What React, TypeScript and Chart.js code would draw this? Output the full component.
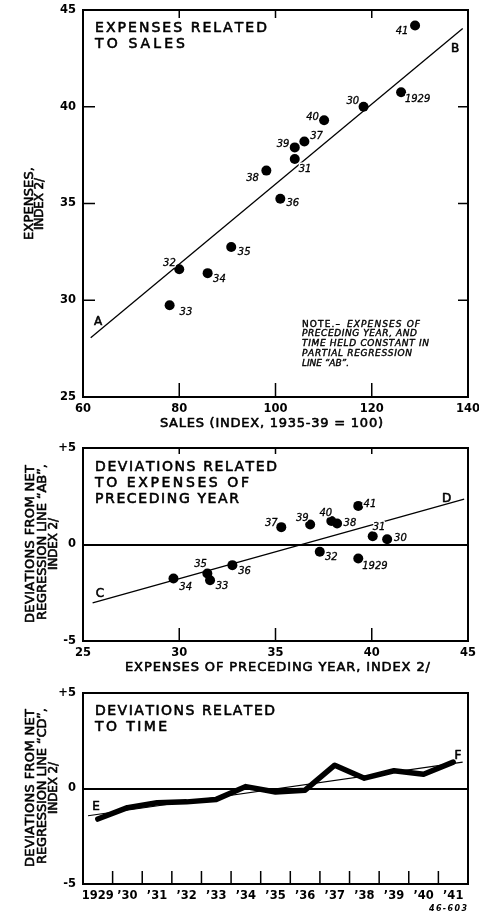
import React, { useEffect, useRef } from 'react';
import { Chart, registerables } from 'chart.js';

Chart.register(...registerables);

const FAMILY = '"DejaVu Sans", sans-serif';

// ---------------- Panel 1: expenses related to sales ----------------
const yearLabels = ['1929', '30', '31', '32', '33', '34', '35', '36', '37', '38', '39', '40', '41'];
const salesIndex = [126.1, 118.3, 104.0, 80.0, 78.0, 85.9, 90.8, 101.0, 106.0, 98.1, 104.0, 110.1, 129.0];
const expensesIndex = [40.75, 40.0, 37.3, 31.6, 29.74, 31.4, 32.75, 35.25, 38.2, 36.7, 37.9, 39.3, 44.2];
const lineABx = [61.6, 138.9];
const lineABy = [28.06, 44.05];
const salesTicks = [60, 80, 100, 120, 140];
const expensesTicks = [25, 30, 35, 40, 45];

// ---------------- Panel 2: deviations related to preceding year's expenses ----------------
const prevYearExpenses = [39.3, 40.8, 40.05, 37.3, 31.6, 29.7, 31.46, 32.76, 35.3, 38.2, 36.8, 37.9, 39.3];
const deviationsAB = [-0.73, 0.27, 0.43, -0.38, -1.85, -1.76, -1.5, -1.07, 0.9, 1.09, 1.04, 1.22, 2.0];
const lineCDx = [25.5, 44.8];
const lineCDy = [-3.03, 2.35];
const prevExpTicks = [25, 30, 35, 40, 45];
const deviationTicks = [-5, 0, 5];

// ---------------- Panel 3: deviations related to time ----------------
const timeLabels = ['1929', '\u201930', '\u201931', '\u201932', '\u201933', '\u201934', '\u201935', '\u201936', '\u201937', '\u201938', '\u201939', '\u201940', '\u201941'];
const deviationsCD = [-1.6, -1.0, -0.75, -0.7, -0.57, 0.1, -0.18, -0.09, 1.22, 0.54, 0.93, 0.75, 1.38];
const lineEFx = [-0.33, 12.32];
const lineEFy = [-1.43, 1.38];

// label placement (pixel offsets of label centres from their dots)
const p1LabelOffsets = [
  [16.5, 5.7], [-10.8, -6.7], [10.3, 9], [-9.8, -7.3], [16.3, 5.7], [11.8, 5.3], [13, 4.7],
  [12.5, 3.3], [12.2, -6.3], [-13.8, 6.3], [-11.7, -3.7], [-11.5, -3.6], [-13, 5],
];
const p2LabelOffsets = [
  [16.7, 6.4], [13.3, -2.3], [6.3, -10.2], [11.5, 4.6], [12, 5.3], [12.2, 8], [-6.8, -9.6],
  [12.2, 5], [-10, -5], [12.8, -1.6], [-7.8, -7.3], [-5.5, -9], [11.7, -2.7],
];

type TextItem = {
  text: string; x: number; y: number; size: number; width?: number;
  align?: 'left' | 'center' | 'right'; italic?: boolean; bold?: boolean; rotate?: boolean; heavy?: number;
};
type TickMark = { side: 'top' | 'bottom' | 'left' | 'right'; values: number[]; len: number };
type PointLabels = { xs: number[]; ys: number[]; labels: string[]; offsets: number[][]; size: number };

function fontStr(size: number, italic?: boolean, bold?: boolean) {
  return `${italic ? 'italic ' : ''}${bold ? 'bold ' : ''}${size}px ${FAMILY}`;
}

function drawSpaced(
  ctx: CanvasRenderingContext2D, text: string, x: number, baseline: number,
  width: number | undefined, align: 'left' | 'center' | 'right', halo = false, heavy = 0,
) {
  const chars = Array.from(text);
  const widths = chars.map((c) => ctx.measureText(c).width);
  const natural = widths.reduce((a, b) => a + b, 0);
  const sp = width != null && chars.length > 1 ? (width - natural) / (chars.length - 1) : 0;
  const total = natural + sp * (chars.length - 1);
  const start = align === 'center' ? x - total / 2 : align === 'right' ? x - total : x;
  ctx.textAlign = 'left';
  ctx.textBaseline = 'alphabetic';
  if (halo) {
    let hx = start;
    ctx.save();
    ctx.strokeStyle = '#fff';
    ctx.lineWidth = 3;
    ctx.lineJoin = 'round';
    chars.forEach((c, i) => { ctx.strokeText(c, hx, baseline); hx += widths[i] + sp; });
    ctx.restore();
  }
  let cx = start;
  chars.forEach((c, i) => {
    ctx.fillText(c, cx, baseline);
    if (heavy > 0) {
      ctx.save();
      ctx.strokeStyle = '#000';
      ctx.lineWidth = heavy;
      ctx.lineJoin = 'round';
      ctx.strokeText(c, cx, baseline);
      ctx.restore();
    }
    cx += widths[i] + sp;
  });
}

function makeDecor(top: number, texts: TextItem[], marks: TickMark[], pl?: PointLabels) {
  return {
    id: 'decor',
    afterDatasetsDraw(chart: any) {
      if (!pl) return;
      const ctx: CanvasRenderingContext2D = chart.ctx;
      const xs = chart.scales.x;
      const ys = chart.scales.y;
      ctx.save();
      ctx.fillStyle = '#000';
      ctx.font = fontStr(pl.size, true);
      const capH = pl.size * 0.729;
      pl.labels.forEach((lab, i) => {
        const px = xs.getPixelForValue(pl.xs[i]) + pl.offsets[i][0];
        const py = ys.getPixelForValue(pl.ys[i]) + pl.offsets[i][1];
        drawSpaced(ctx, lab, px, py + capH / 2, undefined, 'center', true, 0.3);
      });
      ctx.restore();
    },
    afterDraw(chart: any) {
      const ctx: CanvasRenderingContext2D = chart.ctx;
      const a = chart.chartArea;
      const xs = chart.scales.x;
      const ys = chart.scales.y;
      ctx.save();
      // frame
      ctx.strokeStyle = '#000';
      ctx.lineWidth = 2;
      ctx.strokeRect(a.left, a.top, a.right - a.left, a.bottom - a.top);
      // inner tick marks
      ctx.lineWidth = 1.5;
      ctx.beginPath();
      marks.forEach((m) => {
        m.values.forEach((v) => {
          if (m.side === 'bottom' || m.side === 'top') {
            const px = xs.getPixelForValue(v);
            const y0 = m.side === 'bottom' ? a.bottom : a.top;
            const y1 = m.side === 'bottom' ? a.bottom - m.len : a.top + m.len;
            ctx.moveTo(px, y0); ctx.lineTo(px, y1);
          } else {
            const py = ys.getPixelForValue(v);
            const x0 = m.side === 'left' ? a.left : a.right;
            const x1 = m.side === 'left' ? a.left + m.len : a.right - m.len;
            ctx.moveTo(x0, py); ctx.lineTo(x1, py);
          }
        });
      });
      ctx.stroke();
      // texts
      ctx.fillStyle = '#000';
      texts.forEach((t) => {
        ctx.font = fontStr(t.size, t.italic, t.bold);
        const capH = t.size * 0.729;
        const align = t.align || 'left';
        const heavy = t.heavy ?? 0.6;
        if (t.rotate) {
          ctx.save();
          ctx.translate(t.x + capH / 2, t.y - top);
          ctx.rotate(-Math.PI / 2);
          drawSpaced(ctx, t.text, 0, 0, t.width, 'center', false, heavy);
          ctx.restore();
        } else {
          drawSpaced(ctx, t.text, t.x, t.y - top + capH / 2, t.width, align, false, heavy);
        }
      });
      ctx.restore();
    },
  };
}

const tickFont = { family: 'DejaVu Sans', size: 11.5, weight: 'bold' as const };

// keep the plot area exactly where the layout padding and box sizes put it
function noLabelPadding(s: any) {
  s.paddingLeft = 0;
  s.paddingRight = 0;
  s.paddingTop = 0;
  s.paddingBottom = 0;
}

function zeroGrid() {
  return {
    display: true,
    drawTicks: false,
    color: (c: any) => (c.tick && c.tick.value === 0 ? '#000' : 'rgba(0,0,0,0)'),
    lineWidth: 2,
  };
}

function panel1Config() {
  const top = 0;
  const texts: TextItem[] = [
    { text: 'EXPENSES RELATED', x: 95, y: 27, size: 14, width: 172 },
    { text: 'TO SALES', x: 95, y: 43, size: 14, width: 90 },
    { text: 'A', x: 98, y: 320.7, size: 12, align: 'center' },
    { text: 'B', x: 455, y: 48, size: 12, align: 'center' },
    { text: 'NOTE.\u2013', x: 302, y: 323.3, size: 9, width: 38, heavy: 0.4 },
    { text: 'EXPENSES OF', x: 347, y: 323.3, size: 9, width: 73, italic: true, heavy: 0.4 },
    { text: 'PRECEDING YEAR, AND', x: 302, y: 333.1, size: 9, width: 115, italic: true, heavy: 0.4 },
    { text: 'TIME HELD CONSTANT IN', x: 302, y: 342.9, size: 9, width: 127, italic: true, heavy: 0.4 },
    { text: 'PARTIAL REGRESSION', x: 302, y: 352.7, size: 9, width: 110, italic: true, heavy: 0.4 },
    { text: 'LINE \u201CAB\u201D.', x: 302, y: 362.5, size: 9, width: 47, italic: true, heavy: 0.4 },
    { text: 'SALES (INDEX, 1935-39 = 100)', x: 271.5, y: 422.7, size: 13, width: 223, align: 'center' },
    { text: 'EXPENSES,', x: 28, y: 203.5, size: 13, width: 73, rotate: true },
    { text: 'INDEX 2/', x: 39, y: 204, size: 12, width: 52, rotate: true },
  ];
  const marks: TickMark[] = [
    { side: 'bottom', values: [80, 100, 120], len: 14 },
    { side: 'top', values: [80, 100, 120], len: 8 },
    { side: 'left', values: [30, 35, 40], len: 12 },
    { side: 'right', values: [30, 35, 40], len: 10 },
  ];
  const decor = makeDecor(top, texts, marks, {
    xs: salesIndex, ys: expensesIndex, labels: yearLabels, offsets: p1LabelOffsets, size: 10,
  });
  return {
    type: 'scatter',
    data: {
      datasets: [
        {
          type: 'line',
          data: lineABx.map((x, i) => ({ x, y: lineABy[i] })),
          borderColor: '#000', borderWidth: 1.3, pointRadius: 0, order: 2,
        },
        {
          type: 'scatter',
          data: salesIndex.map((x, i) => ({ x, y: expensesIndex[i] })),
          backgroundColor: '#000', borderWidth: 0, pointRadius: 5, order: 1,
        },
      ],
    },
    options: {
      responsive: false,
      animation: false,
      layout: { padding: { top: 10, right: 11, left: 0, bottom: 0 } },
      plugins: { legend: { display: false }, tooltip: { enabled: false } },
      scales: {
        x: {
          type: 'linear', min: 60, max: 140,
          afterBuildTicks: (s: any) => { s.ticks = salesTicks.map((v) => ({ value: v })); },
          afterFit: (s: any) => { s.height = 35; noLabelPadding(s); },
          grid: { display: false, drawTicks: false },
          border: { display: false },
          ticks: { font: tickFont, color: '#000', padding: 5, maxRotation: 0, autoSkip: false },
        },
        y: {
          type: 'linear', min: 25, max: 45,
          afterBuildTicks: (s: any) => { s.ticks = expensesTicks.map((v) => ({ value: v })); },
          afterFit: (s: any) => { s.width = 83; noLabelPadding(s); },
          grid: { display: false, drawTicks: false },
          border: { display: false },
          ticks: { font: tickFont, color: '#000', padding: 7 },
        },
      },
    },
    plugins: [decor],
  };
}

function devTickLabel(v: any) {
  const n = Number(v);
  return n > 0 ? `+${n}` : n < 0 ? `-${Math.abs(n)}` : '0';
}

function panel2Config() {
  const top = 432;
  const texts: TextItem[] = [
    { text: 'DEVIATIONS RELATED', x: 95, y: 466, size: 14, width: 182 },
    { text: 'TO EXPENSES OF', x: 95, y: 482, size: 14, width: 154 },
    { text: 'PRECEDING YEAR', x: 95, y: 498, size: 14, width: 144 },
    { text: 'C', x: 100, y: 592.3, size: 12, align: 'center' },
    { text: 'D', x: 446.7, y: 497.3, size: 12, align: 'center' },
    { text: 'EXPENSES OF PRECEDING YEAR, INDEX 2/', x: 277.5, y: 666.7, size: 13, width: 305, align: 'center' },
    { text: 'DEVIATIONS FROM NET', x: 29, y: 544, size: 13, width: 158, rotate: true },
    { text: 'REGRESSION LINE \u201CAB\u201D,', x: 41, y: 542, size: 13, width: 156, rotate: true },
    { text: 'INDEX 2/', x: 53, y: 544, size: 12, width: 52, rotate: true },
  ];
  const marks: TickMark[] = [
    { side: 'bottom', values: [30, 35, 40], len: 13 },
    { side: 'top', values: [30, 35, 40], len: 6 },
  ];
  const decor = makeDecor(top, texts, marks, {
    xs: prevYearExpenses, ys: deviationsAB, labels: yearLabels, offsets: p2LabelOffsets, size: 10,
  });
  return {
    type: 'scatter',
    data: {
      datasets: [
        {
          type: 'line',
          data: lineCDx.map((x, i) => ({ x, y: lineCDy[i] })),
          borderColor: '#000', borderWidth: 1.3, pointRadius: 0, order: 2,
        },
        {
          type: 'scatter',
          data: prevYearExpenses.map((x, i) => ({ x, y: deviationsAB[i] })),
          backgroundColor: '#000', borderWidth: 0, pointRadius: 5, order: 1,
        },
      ],
    },
    options: {
      responsive: false,
      animation: false,
      layout: { padding: { top: 16, right: 11, left: 0, bottom: 0 } },
      plugins: { legend: { display: false }, tooltip: { enabled: false } },
      scales: {
        x: {
          type: 'linear', min: 25, max: 45,
          afterBuildTicks: (s: any) => { s.ticks = prevExpTicks.map((v) => ({ value: v })); },
          afterFit: (s: any) => { s.height = 35; noLabelPadding(s); },
          grid: { display: false, drawTicks: false },
          border: { display: false },
          ticks: { font: tickFont, color: '#000', padding: 5, maxRotation: 0, autoSkip: false },
        },
        y: {
          type: 'linear', min: -5, max: 5,
          afterBuildTicks: (s: any) => { s.ticks = deviationTicks.map((v) => ({ value: v })); },
          afterFit: (s: any) => { s.width = 83; noLabelPadding(s); },
          grid: zeroGrid(),
          border: { display: false },
          ticks: { font: tickFont, color: '#000', padding: 7, callback: devTickLabel },
        },
      },
    },
    plugins: [decor],
  };
}

function panel3Config() {
  const top = 676;
  const texts: TextItem[] = [
    { text: 'DEVIATIONS RELATED', x: 95, y: 709.7, size: 14, width: 180 },
    { text: 'TO TIME', x: 95, y: 726, size: 14, width: 72 },
    { text: 'E', x: 96, y: 805.5, size: 12, align: 'center' },
    { text: 'F', x: 458, y: 754.7, size: 12, align: 'center' },
    { text: '46-603', x: 448, y: 908, size: 8, width: 38, italic: true, bold: true, align: 'center', heavy: 0 },
    { text: 'DEVIATIONS FROM NET', x: 29, y: 788, size: 13, width: 158, rotate: true },
    { text: 'REGRESSION LINE \u201CCD\u201D,', x: 41, y: 786, size: 13, width: 156, rotate: true },
    { text: 'INDEX 2/', x: 53, y: 788, size: 12, width: 52, rotate: true },
  ];
  const boundaries = timeLabels.slice(1).map((_, i) => i + 0.5);
  const marks: TickMark[] = [{ side: 'bottom', values: boundaries, len: 13 }];
  const decor = makeDecor(top, texts, marks);
  return {
    type: 'scatter',
    data: {
      datasets: [
        {
          type: 'line',
          data: lineEFx.map((x, i) => ({ x, y: lineEFy[i] })),
          borderColor: '#000', borderWidth: 1.1, pointRadius: 0, order: 2,
        },
        {
          type: 'line',
          data: deviationsCD.map((y, i) => ({ x: i, y })),
          borderColor: '#000', borderWidth: 5.5, pointRadius: 0,
          borderJoinStyle: 'round', borderCapStyle: 'round', tension: 0, order: 1,
        },
      ],
    },
    options: {
      responsive: false,
      animation: false,
      layout: { padding: { top: 17, right: 11, left: 0, bottom: 0 } },
      plugins: { legend: { display: false }, tooltip: { enabled: false } },
      scales: {
        x: {
          type: 'linear', min: -0.5, max: 12.5,
          afterBuildTicks: (s: any) => { s.ticks = timeLabels.map((_, i) => ({ value: i })); },
          afterFit: (s: any) => { s.height = 29; noLabelPadding(s); },
          grid: { display: false, drawTicks: false },
          border: { display: false },
          ticks: {
            font: tickFont, color: '#000', padding: 5, maxRotation: 0, autoSkip: false,
            callback: (v: any) => timeLabels[Math.round(Number(v))] ?? '',
          },
        },
        y: {
          type: 'linear', min: -5, max: 5,
          afterBuildTicks: (s: any) => { s.ticks = deviationTicks.map((v) => ({ value: v })); },
          afterFit: (s: any) => { s.width = 83; noLabelPadding(s); },
          grid: zeroGrid(),
          border: { display: false },
          ticks: { font: tickFont, color: '#000', padding: 7, callback: devTickLabel },
        },
      },
    },
    plugins: [decor],
  };
}

function Panel({ top, height, make }: { top: number; height: number; make: () => any }) {
  const ref = useRef<HTMLCanvasElement | null>(null);
  useEffect(() => {
    if (!ref.current) return;
    const chart = new Chart(ref.current, make());
    return () => chart.destroy();
  }, [make]);
  return (
    <div style={{ position: 'absolute', left: 0, top, width: 479, height }}>
      <canvas ref={ref} width={479} height={height} style={{ width: 479, height, display: 'block' }} />
    </div>
  );
}

export default function App() {
  return (
    <div style={{ position: 'absolute', left: 0, top: 0, width: 479, height: 913, background: '#fff' }}>
      <Panel top={0} height={432} make={panel1Config} />
      <Panel top={432} height={244} make={panel2Config} />
      <Panel top={676} height={237} make={panel3Config} />
    </div>
  );
}
